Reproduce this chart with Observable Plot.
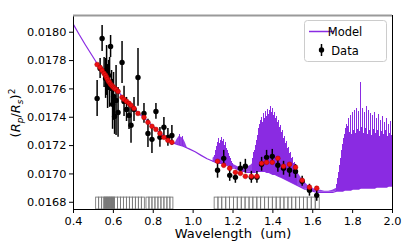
<!DOCTYPE html>
<html><head><meta charset="utf-8">
<script src="https://cdn.jsdelivr.net/npm/d3@7"></script>
<script src="https://cdn.jsdelivr.net/npm/@observablehq/plot@0.6"></script>
<style>body{margin:0;background:#fff} svg{display:block}</style>
</head><body><div id="chart"></div>
<script>
// ---- data ----
const xTicks = [0.4, 0.6, 0.8, 1.0, 1.2, 1.4, 1.6, 1.8, 2.0];
const yTicks = [0.0168, 0.0170, 0.0172, 0.0174, 0.0176, 0.0178, 0.0180];

// observed transit depth
const waveData = [0.5185,0.5335,0.5435,0.5535,0.561,0.566,0.571,0.576,0.581,0.586,0.591,0.596,0.601,0.606,0.6135,0.6235,0.6435,0.6535,0.666,0.6785,0.6885,0.7035,0.7235,0.7535,0.7735,0.7935,0.8135,0.8335,0.8535,0.8735,0.8935,
  1.1225,1.1535,1.1835,1.212,1.237,1.262,1.292,1.32,1.3435,1.3685,1.397,1.425,1.4535,1.4835,1.5135,1.547,1.5835,1.62];
const depthData = [0.017533,0.017744,0.017956,0.017716,0.017674,0.017730,0.017617,0.017695,0.017646,0.017899,0.017603,0.017491,0.017547,0.017406,0.017519,0.017434,0.017787,0.017512,0.017455,0.017413,0.017343,0.017455,0.017681,0.017427,0.017286,0.017244,0.017441,0.017258,0.017329,0.017258,0.017272,
  0.017026,0.017110,0.016990,0.016976,0.017040,0.017054,0.016976,0.016976,0.017068,0.017117,0.017124,0.017061,0.017040,0.017026,0.017018,0.016948,0.016885,0.016849];
const errData = [0.000127,0.00007,0.000092,0.000106,0.000141,0.000176,0.000155,0.000106,0.000176,0.000078,0.000127,0.000176,0.000169,0.000127,0.000247,0.000176,0.000148,0.000106,0.000085,0.000099,0.000127,0.000085,0.000204,0.00007,0.000099,0.000099,0.000056,0.00007,0.00007,0.000063,0.00007,
  0.000056,0.000056,0.000042,0.000042,0.000042,0.000049,0.000042,0.000042,0.000049,0.000049,0.000049,0.000049,0.000049,0.000049,0.000049,0.000035,0.000042,0.000042];
// binned model (red)
const binnedModel = [0.017772,0.017751,0.017730,0.017709,0.017695,0.017681,0.017667,0.017653,0.017646,0.017632,0.017625,0.017617,0.017610,0.017603,0.017596,0.017582,0.017540,0.017526,0.017512,0.017498,0.017484,0.017462,0.017427,0.017399,0.017364,0.017336,0.017314,0.017286,0.017258,0.017237,0.017223,
  0.017089,0.017061,0.017040,0.017011,0.017004,0.016983,0.016983,0.016983,0.017075,0.017082,0.017082,0.017110,0.017054,0.017068,0.017047,0.016955,0.016906,0.016899];

// smooth model part
const modelW = [0.40,0.43,0.46,0.49,0.52,0.55,0.58,0.61,0.64,0.67,0.70,0.73,0.76,0.79,0.82,0.85,0.88,0.90,0.92,0.95,0.98,1.01,1.04,1.07,1.10];
const modelV = [0.018054,0.017980,0.017910,0.017843,0.017776,0.017720,0.017660,0.017607,0.017554,0.017508,0.017466,0.017424,0.017388,0.017346,0.017307,0.017269,0.017237,0.017219,0.017209,0.017195,0.017177,0.017156,0.017131,0.017107,0.017089];

// spectral bands of the model (lower envelope / dense core)
const bandAW = [0.91,0.92,0.93,0.94,0.95,0.96,0.97];
const bandALo = [0.017212,0.017209,0.017202,0.017198,0.017195,0.017188,0.017181];
const bandAHi = [0.017216,0.017244,0.017265,0.017258,0.017251,0.017223,0.017188];

const bandW = [1.10,1.11,1.12,1.13,1.14,1.15,1.16,1.17,1.18,1.19,1.20,1.21,1.22,1.23,1.24,1.25,1.26,1.27,1.28,1.29,1.30,1.31,1.32,1.33,1.34,1.35,1.36,1.37,1.38,1.39,1.40,1.41,1.42,1.43,1.44,1.45,1.46,1.47,1.48,1.49,1.50,1.51,1.52,1.53,1.54,1.55,1.56,1.57,1.58,1.59,1.60,1.62,1.64,1.66,1.68,1.70,1.72,1.73,1.74,1.75,1.76,1.77,1.78,1.79,1.80,1.81,1.82,1.83,1.84,1.85,1.86,1.87,1.88,1.89,1.90,1.91,1.92,1.93,1.94,1.95,1.96,1.97,1.98,1.99,2.00];
const bandLo = [0.017089,0.017082,0.017082,0.017075,0.017075,0.017068,0.017068,0.017061,0.017054,0.017047,0.017040,0.017040,0.017033,0.017026,0.017026,0.017018,0.017018,0.017011,0.017011,0.017011,0.017011,0.017011,0.017018,0.017018,0.017018,0.017018,0.017018,0.017011,0.017011,0.017004,0.016997,0.016997,0.016990,0.016983,0.016976,0.016969,0.016962,0.016955,0.016948,0.016941,0.016934,0.016927,0.016920,0.016913,0.016906,0.016899,0.016892,0.016892,0.016885,0.016885,0.016878,0.016870,0.016870,0.016870,0.016870,0.016870,0.016878,0.016878,0.016878,0.016878,0.016885,0.016885,0.016885,0.016885,0.016892,0.016892,0.016892,0.016892,0.016899,0.016899,0.016899,0.016899,0.016899,0.016899,0.016899,0.016899,0.016906,0.016906,0.016906,0.016906,0.016906,0.016906,0.016913,0.016913,0.016913];
const bandHi = [0.017110,0.017124,0.017152,0.017166,0.017166,0.017173,0.017152,0.017131,0.017110,0.017082,0.017068,0.017061,0.017054,0.017047,0.017047,0.017047,0.017047,0.017047,0.017054,0.017061,0.017075,0.017096,0.017131,0.017181,0.017237,0.017265,0.017286,0.017300,0.017314,0.017314,0.017321,0.017300,0.017279,0.017251,0.017223,0.017195,0.017166,0.017145,0.017117,0.017089,0.017068,0.017047,0.017018,0.016997,0.016976,0.016955,0.016941,0.016927,0.016913,0.016906,0.016899,0.016885,0.016885,0.016878,0.016878,0.016885,0.016899,0.016920,0.016955,0.017011,0.017061,0.017110,0.017145,0.017173,0.017195,0.017209,0.017223,0.017230,0.017237,0.017237,0.017230,0.017230,0.017223,0.017223,0.017216,0.017216,0.017209,0.017209,0.017202,0.017202,0.017195,0.017195,0.017195,0.017202,0.017202];

// narrow spectral lines rising above the dense core
const spikeW = [0.93,0.945,
  1.105,1.11,1.115,1.12,1.125,1.13,1.135,1.14,1.145,1.15,1.155,1.16,1.165,1.17,1.175,1.18,1.185,1.19,1.195,
  1.300,1.305,1.310,1.315,1.320,1.325,1.330,1.335,1.340,1.345,1.350,1.355,1.360,1.365,1.370,1.375,1.380,1.385,1.390,1.395,1.400,1.405,1.410,1.415,1.420,1.425,1.430,1.435,1.440,1.445,1.450,1.455,1.460,1.465,1.470,1.475,1.480,1.485,1.490,1.495,1.500,1.505,1.510,1.515,1.520,
  1.720,1.725,1.730,1.735,1.740,1.745,1.750,1.755,1.760,1.765,1.770,1.775,1.780,1.785,1.790,1.795,1.800,1.805,1.810,1.815,1.820,1.825,1.830,1.835,1.840,1.845,1.850,1.855,1.860,1.865,1.870,1.875,1.880,1.885,1.890,1.895,1.900,1.905,1.910,1.915,1.920,1.925,1.930,1.935,1.940,1.945,1.950,1.955,1.960,1.965,1.970,1.975,1.980,1.985,1.990,1.995,2.000];
const spikeLo = [0.017202,0.017195,
  0.017085,0.017082,0.017082,0.017082,0.017078,0.017075,0.017075,0.017075,0.017071,0.017068,0.017068,0.017068,0.017064,0.017061,0.017058,0.017054,0.017050,0.017047,0.017044,
  0.017011,0.017011,0.017011,0.017014,0.017018,0.017018,0.017018,0.017018,0.017018,0.017018,0.017018,0.017018,0.017018,0.017014,0.017011,0.017011,0.017011,0.017007,0.017004,0.017000,0.016997,0.016997,0.016997,0.016993,0.016990,0.016986,0.016983,0.016979,0.016976,0.016972,0.016969,0.016965,0.016962,0.016958,0.016955,0.016951,0.016948,0.016944,0.016941,0.016937,0.016934,0.016930,0.016927,0.016923,0.016920,
  0.016878,0.016878,0.016878,0.016878,0.016878,0.016878,0.016878,0.016878,0.016885,0.016885,0.016885,0.016885,0.016885,0.016885,0.016885,0.016885,0.016892,0.016892,0.016892,0.016892,0.016892,0.016892,0.016892,0.016892,
  0.016899,0.016899,0.016899,0.016899,0.016899,0.016899,0.016899,0.016899,0.016899,0.016899,0.016899,0.016899,0.016899,0.016899,0.016899,0.016899,
  0.016906,0.016906,0.016906,0.016906,0.016906,0.016906,0.016906,0.016906,0.016906,0.016906,0.016906,0.016906,0.016913,0.016913,0.016913,0.016913,0.016913];
const spikeHi = [0.017279,0.017265,
  0.017131,0.017166,0.017195,0.017223,0.017251,0.017216,0.017237,0.017258,0.017230,0.017244,0.017202,0.017223,0.017181,0.017166,0.017145,0.017124,0.017110,0.017089,0.017075,
  0.017110,0.017152,0.017166,0.017202,0.017237,0.017272,0.017321,0.017350,0.017378,0.017399,0.017364,0.017427,0.017392,0.017441,0.017406,0.017455,0.017420,0.017448,0.017477,0.017434,0.017462,0.017413,0.017434,0.017392,0.017406,0.017364,0.017378,0.017329,0.017343,0.017293,0.017307,0.017251,0.017265,0.017216,0.017230,0.017181,0.017188,0.017145,0.017152,0.017110,0.017117,0.017075,0.017082,0.017040,0.017047,
  0.016927,0.016969,0.017011,0.017061,0.017110,0.017166,0.017209,0.017251,0.017279,0.017321,0.017350,0.017336,0.017392,0.017293,0.017413,0.017279,0.017434,0.017307,0.017448,0.017286,0.017462,0.017314,0.017441,0.017300,0.017646,0.017329,0.017462,0.017286,0.017434,0.017321,0.017477,0.017279,0.017448,0.017307,0.017427,0.017272,0.017413,0.017314,0.017434,0.017286,0.017392,0.017307,0.017420,0.017265,0.017378,0.017300,0.017406,0.017279,0.017364,0.017307,0.017392,0.017265,0.017350,0.017286,0.017371,0.017272,0.017336];

// instrument bin edges
const binEdgesA = [0.5135,0.5285,0.5435,0.555,0.5585,0.562,0.5655,0.569,0.5725,0.576,0.5795,0.583,0.5865,0.590,0.5935,0.597,0.6005,0.604,0.608,0.623,0.638,0.653,0.668,0.683,0.698,0.713,0.728,0.743,0.758];
const binEdgesB = [0.766,0.781,0.796,0.811,0.826,0.841,0.856,0.871,0.886,0.901];
const binEdgesC = [1.108,1.127,1.146,1.166,1.185,1.205,1.224,1.244,1.263,1.283,1.302,1.322,1.341,1.361,1.380,1.400,1.419,1.439,1.458,1.478,1.497,1.517,1.536,1.556,1.575,1.595,1.615,1.635];
const binTop = 0.016833;

const yMin = 0.016749, yMax = 0.018118;
const purple = "#8a2be2";

// ---- tables built from the arrays ----
const obs = waveData.map((w, i) => ({w, v: depthData[i], e: errData[i], m: binnedModel[i]}));
const model = modelW.map((w, i) => ({w, v: modelV[i]}));
const bandA = bandAW.map((w, i) => ({w, lo: bandALo[i], hi: bandAHi[i]}));
const band = bandW.map((w, i) => ({w, lo: bandLo[i], hi: bandHi[i]}));
const spikes = spikeW.map((w, i) => ({w, lo: spikeLo[i], hi: spikeHi[i]}));
const bins = [binEdgesA, binEdgesB, binEdgesC].flatMap(e => e.slice(0, -1).map((x1, i) => ({x1, x2: e[i + 1]})));

const svg = Plot.plot({
  width: 407, height: 247,
  marginLeft: 73, marginRight: 15, marginTop: 15, marginBottom: 38,
  x: {domain: [0.4, 2.0]},
  y: {domain: [yMin, yMax]},
  style: {fontFamily: "DejaVu Sans", fontSize: "11.3px", color: "black", background: "white"},
  marks: [
    Plot.rect(bins, {x1: "x1", x2: "x2", y1: yMin, y2: binTop, fill: "none", stroke: "#7a7a7a", strokeWidth: 0.9}),
    Plot.areaY(bandA, {x: "w", y1: "lo", y2: "hi", fill: purple, fillOpacity: 0.9, clip: true}),
    Plot.areaY(band, {x: "w", y1: "lo", y2: "hi", fill: purple, fillOpacity: 0.9, clip: true}),
    Plot.ruleX(spikes, {x: "w", y1: "lo", y2: "hi", stroke: purple, strokeWidth: 1, shapeRendering: "crispEdges", clip: true}),
    Plot.line(model, {x: "w", y: "v", stroke: purple, strokeWidth: 1.2, clip: true}),
    Plot.line(band, {x: "w", y: "lo", stroke: purple, strokeWidth: 1.2, clip: true}),
    Plot.ruleX(obs, {x: "w", y1: d => d.v - d.e, y2: d => d.v + d.e, stroke: "black", strokeWidth: 1.5}),
    Plot.dot(obs, {x: "w", y: "v", r: 2.7, fill: "black"}),
    Plot.dot(obs, {x: "w", y: "m", r: 2.4, fill: "#ee1111", stroke: "#aa0000", strokeWidth: 0.5}),
    Plot.ruleX([0.4, 2.0], {stroke: "black", strokeWidth: 1}),
    Plot.ruleY([yMin], {stroke: "black", strokeWidth: 1}),
    Plot.ruleY([yMax], {stroke: "#9a9a9a", strokeWidth: 2}),
    Plot.axisX({ticks: xTicks, tickFormat: d3.format(".1f"), tickSize: 4, tickPadding: 3, label: null}),
    Plot.axisY({ticks: yTicks, tickFormat: d3.format(".4f"), tickSize: 4, tickPadding: 3, label: null})
  ]
});
document.getElementById("chart").append(svg);

const s = d3.select(svg);
const font = "DejaVu Sans";
// x label
s.append("text").attr("x", 233).attr("y", 238).attr("text-anchor", "middle")
  .attr("font-family", font).attr("font-size", 13).attr("fill", "black")
  .text("Wavelength\u00a0\u00a0(um)");
// y label (R_p/R_s)^2
const yl = s.append("text").attr("transform", "translate(20,113) rotate(-90)").attr("text-anchor", "middle")
  .attr("font-family", font).attr("font-size", 13).attr("fill", "black");
yl.append("tspan").text("(");
yl.append("tspan").attr("font-style", "italic").text("R");
yl.append("tspan").attr("font-style", "italic").attr("font-size", 9).attr("dy", 3).text("p");
yl.append("tspan").attr("dy", -3).text("/");
yl.append("tspan").attr("font-style", "italic").text("R");
yl.append("tspan").attr("font-style", "italic").attr("font-size", 9).attr("dy", 3).text("s");
yl.append("tspan").attr("dy", -3).text(")");
yl.append("tspan").attr("font-size", 9).attr("dy", -5).text("2");

// legend
const lg = s.append("g");
lg.append("rect").attr("x", 304.5).attr("y", 20.5).attr("width", 82).attr("height", 41).attr("rx", 3)
  .attr("fill", "white").attr("fill-opacity", 0.8).attr("stroke", "#cccccc");
lg.append("line").attr("x1", 309).attr("x2", 334).attr("y1", 31.5).attr("y2", 31.5).attr("stroke", purple).attr("stroke-width", 1.5);
lg.append("text").attr("x", 345).attr("y", 36).attr("font-family", font).attr("font-size", 11.5).text("Model");
lg.append("line").attr("x1", 321.5).attr("x2", 321.5).attr("y1", 44).attr("y2", 56).attr("stroke", "black").attr("stroke-width", 1.5);
lg.append("circle").attr("cx", 321.5).attr("cy", 50).attr("r", 2.7).attr("fill", "black");
lg.append("text").attr("x", 345).attr("y", 54.5).attr("font-family", font).attr("font-size", 11.5).text("Data");
</script>
</body></html>
